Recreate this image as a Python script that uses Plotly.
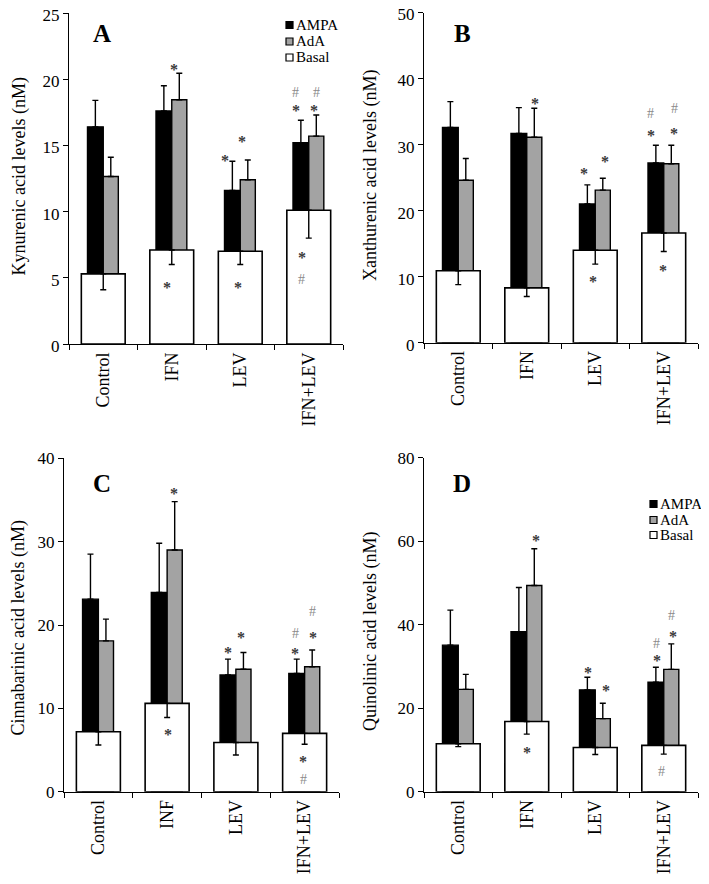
import plotly.graph_objects as go

PAGE_W, PAGE_H = 709, 884
OFF = 8                     # default page margin around the plot div
W, H = PAGE_W - OFF, PAGE_H - OFF

# ---------------- data ----------------
categories_ABD = ["Control", "IFN", "LEV", "IFN+LEV"]
categories_C = ["Control", "INF", "LEV", "IFN+LEV"]
series_names = ["AMPA", "AdA", "Basal"]

# Panel A: Kynurenic acid (nM)
kyna_ampa = [16.4, 17.6, 11.6, 15.2]
kyna_ampa_sem = [2.0, 1.9, 2.2, 1.7]
kyna_ada = [12.65, 18.45, 12.4, 15.7]
kyna_ada_sem = [1.45, 2.0, 1.5, 1.6]
kyna_basal = [5.3, 7.1, 7.0, 10.1]
kyna_basal_sem = [1.2, 1.1, 1.0, 2.1]

# Panel B: Xanthurenic acid (nM)
xa_ampa = [32.6, 31.7, 21.0, 27.2]
xa_ampa_sem = [3.9, 3.9, 2.9, 2.7]
xa_ada = [24.6, 31.1, 23.1, 27.1]
xa_ada_sem = [3.3, 4.4, 1.8, 2.8]
xa_basal = [10.9, 8.3, 14.0, 16.6]
xa_basal_sem = [2.1, 1.3, 2.1, 2.8]

# Panel C: Cinnabarinic acid (nM)
ca_ampa = [23.1, 23.9, 14.0, 14.2]
ca_ampa_sem = [5.4, 5.9, 1.9, 1.7]
ca_ada = [18.1, 29.0, 14.7, 15.0]
ca_ada_sem = [2.6, 5.8, 2.0, 2.0]
ca_basal = [7.2, 10.6, 5.9, 7.0]
ca_basal_sem = [1.6, 1.7, 1.5, 1.3]

# Panel D: Quinolinic acid (nM)
qa_ampa = [35.1, 38.3, 24.4, 26.2]
qa_ampa_sem = [8.4, 10.6, 3.0, 3.6]
qa_ada = [24.5, 49.4, 17.5, 29.3]
qa_ada_sem = [3.6, 8.8, 3.7, 6.1]
qa_basal = [11.5, 16.8, 10.6, 11.1]
qa_basal_sem = [0.7, 3.0, 1.7, 2.1]

y_titles = ["Kynurenic acid levels (nM)", "Xanthurenic acid levels (nM)",
            "Cinnabarinic acid levels (nM)", "Quinolinic acid levels (nM)"]
panel_letters = ["A", "B", "C", "D"]
y_max = [25, 50, 40, 80]
y_dtick = [5, 10, 10, 20]

# significance marks: (x position in category units, y value, symbol)
marks_A = [(1.03, 21.0, "*"), (0.93, 4.6, "*"), (1.78, 14.15, "*"), (2.03, 15.6, "*"),
           (1.97, 4.6, "*"), (2.80, 19.0, "#"), (2.81, 17.9, "*"), (3.12, 19.0, "#"),
           (3.08, 17.9, "*"), (2.90, 6.8, "*"), (2.90, 4.9, "#")]
marks_B = [(1.12, 36.8, "*"), (1.84, 26.2, "*"), (2.14, 28.0, "*"), (1.97, 9.8, "*"),
           (2.81, 34.7, "#"), (2.81, 32.0, "*"), (3.15, 35.5, "#"), (3.15, 32.3, "*"),
           (2.99, 11.6, "*")]
marks_C = [(1.10, 36.2, "*"), (1.01, 7.4, "*"), (1.89, 17.2, "*"), (2.07, 19.0, "*"),
           (2.86, 19.0, "#"), (2.86, 17.1, "*"), (3.12, 21.6, "#"), (3.12, 19.0, "*"),
           (2.98, 4.1, "*"), (2.98, 1.5, "#")]
marks_D = [(1.13, 61.1, "*"), (1.00, 10.4, "*"), (1.89, 29.6, "*"), (2.15, 25.1, "*"),
           (2.90, 35.5, "#"), (2.90, 32.3, "*"), (3.12, 42.3, "#"), (3.13, 38.1, "*"),
           (2.97, 4.8, "#")]

panels = [
    (categories_ABD, kyna_ampa, kyna_ampa_sem, kyna_ada, kyna_ada_sem, kyna_basal, kyna_basal_sem, marks_A),
    (categories_ABD, xa_ampa, xa_ampa_sem, xa_ada, xa_ada_sem, xa_basal, xa_basal_sem, marks_B),
    (categories_C, ca_ampa, ca_ampa_sem, ca_ada, ca_ada_sem, ca_basal, ca_basal_sem, marks_C),
    (categories_ABD, qa_ampa, qa_ampa_sem, qa_ada, qa_ada_sem, qa_basal, qa_basal_sem, marks_D),
]

# ---------------- layout geometry (page pixels) ----------------
boxes = [(69, 343, 13, 344), (424, 698, 12.5, 342.7), (64, 339, 458.3, 791.7), (424, 698, 457.7, 791.7)]
ytitle_pos = [(18.5, 177), (370, 176), (17.5, 628), (370, 632)]
letter_pos = [(102, 33), (462, 33), (102, 483), (462, 483)]
label_shift = [2, 2, 0, 0]


def fx(px):
    return (px - OFF) / W


def fy(py):
    return 1 - (py - OFF) / H


FONT = "Liberation Serif"
BAR_LINE = dict(color="black", width=1.4)
colors = {"AMPA": "black", "AdA": "#a3a3a3", "Basal": "white"}

fig = go.Figure()
annotations = []
shapes = []

for k, (cats, ampa, ampa_sem, ada, ada_sem, basal, basal_sem, marks) in enumerate(panels):
    suffix = "" if k == 0 else str(k + 1)
    xref, yref = "x" + suffix, "y" + suffix
    zeros = [0] * len(cats)
    err_style = dict(type="data", symmetric=False, color="black", thickness=1.4, width=3)
    fig.add_trace(go.Bar(x=cats, y=ampa, name="AMPA", marker=dict(color=colors["AMPA"], line=BAR_LINE),
                         offset=-0.23, width=0.23, xaxis=xref, yaxis=yref, showlegend=False,
                         error_y=dict(array=ampa_sem, arrayminus=zeros, **err_style)))
    fig.add_trace(go.Bar(x=cats, y=ada, name="AdA", marker=dict(color=colors["AdA"], line=BAR_LINE),
                         offset=0.0, width=0.22, xaxis=xref, yaxis=yref, showlegend=False,
                         error_y=dict(array=ada_sem, arrayminus=zeros, **err_style)))
    fig.add_trace(go.Bar(x=cats, y=basal, name="Basal", marker=dict(color=colors["Basal"], line=dict(color="black", width=1.6)),
                         offset=-0.32, width=0.64, xaxis=xref, yaxis=yref, showlegend=False,
                         error_y=dict(array=zeros, arrayminus=basal_sem, **err_style)))

    l, r, t, b = boxes[k]
    fig.update_layout(**{
        "xaxis" + suffix: dict(domain=[fx(l), fx(r)], anchor=yref, type="category", automargin=False,
                               range=[-0.5, 3.5], tickson="boundaries", ticks="outside",
                               ticklen=5, tickwidth=1.4, tickcolor="black", showline=True,
                               linecolor="black", linewidth=1.4, tickangle=-90,
                               tickfont=dict(family=FONT, size=18, color="black"),
                               ticklabeloverflow="allow",
                               showgrid=False, zeroline=False, fixedrange=True),
        "yaxis" + suffix: dict(domain=[fy(b), fy(t)], anchor=xref, automargin=False,
                               range=[0, y_max[k]], dtick=y_dtick[k], tick0=0, ticks="outside",
                               ticklen=5, tickwidth=1.4, tickcolor="black", showline=True,
                               linecolor="black", linewidth=1.4, ticklabelshift=label_shift[k],
                               tickfont=dict(family=FONT, size=17, color="black"),
                               ticklabeloverflow="allow",
                               showgrid=False, zeroline=False, fixedrange=True),
    })

    tx, ty = ytitle_pos[k]
    annotations.append(dict(x=fx(tx), y=fy(ty), xref="paper", yref="paper", text=y_titles[k],
                            textangle=-90, showarrow=False, xanchor="center", yanchor="middle",
                            font=dict(family=FONT, size=18, color="black")))
    lx, ly = letter_pos[k]
    annotations.append(dict(x=fx(lx), y=fy(ly), xref="paper", yref="paper", text="<b>%s</b>" % panel_letters[k],
                            showarrow=False, xanchor="center", yanchor="middle",
                            font=dict(family=FONT, size=25, color="black")))
    for (mx, my, sym) in marks:
        annotations.append(dict(x=mx, y=my, xref=xref, yref=yref,
                                text="<b>*</b>" if sym == "*" else sym, showarrow=False,
                                xanchor="center", yanchor="middle",
                                yshift=-4 if sym == "*" else 0,
                                font=dict(family=FONT, size=16 if sym == "*" else 14,
                                          color="#3a3a3a" if sym == "*" else "#8a8a8a")))

# hand-placed legends (panels A and D)
legend_spots = [((286, 293), [25, 41.5, 57.5], 295), ((650, 657), [504, 520, 535], 659)]
for (sx0, sx1), rows, tx0 in legend_spots:
    for name, cy in zip(series_names, rows):
        half = (sx1 - sx0) / 2
        shapes.append(dict(type="rect", xref="paper", yref="paper",
                           x0=fx(sx0), x1=fx(sx1), y0=fy(cy + half), y1=fy(cy - half),
                           fillcolor=colors[name], line=dict(color="black", width=1.2)))
        annotations.append(dict(x=fx(tx0), y=fy(cy), xref="paper", yref="paper", text=name,
                                showarrow=False, xanchor="left", yanchor="middle", borderpad=0,
                                font=dict(family=FONT, size=15, color="black")))

fig.update_layout(template="none", width=W, height=H, margin=dict(l=0, r=0, t=0, b=0, autoexpand=False),
                  barmode="overlay", paper_bgcolor="white", plot_bgcolor="white", showlegend=False,
                  annotations=annotations, shapes=shapes)

fig.write_html("out.html")
